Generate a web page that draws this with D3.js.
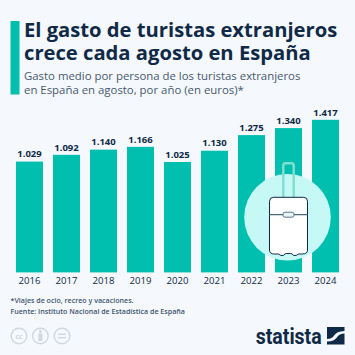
<!DOCTYPE html>
<html lang="es">
<head>
<meta charset="UTF-8">
<title>Gasto de turistas extranjeros</title>
<script src="https://cdn.jsdelivr.net/npm/d3@7"></script>
<style>
  html, body { margin: 0; padding: 0; background: #f5f8fc; }
  svg { display: block; font-family: "Open Sans", sans-serif; }
</style>
</head>
<body>
<script>
// datos
var years = ["2016", "2017", "2018", "2019", "2020", "2021", "2022", "2023", "2024"];
var values = [1029, 1092, 1140, 1166, 1025, 1130, 1275, 1340, 1417];
var valueLabels = ["1.029", "1.092", "1.140", "1.166", "1.025", "1.130", "1.275", "1.340", "1.417"];
var titleLines = ["El gasto de turistas extranjeros", "crece cada agosto en España"];
var subtitleLines = ["Gasto medio por persona de los turistas extranjeros", "en España en agosto, por año (en euros)*"];
var footLines = ["*Viajes de ocio, recreo y vacaciones.", "Fuente: Instituto Nacional de Estadística de España"];

var width = 355, height = 355;
var navy = "#0f2a47", teal = "#00bfae", slate = "#47596f";

var svg = d3.select("body").append("svg")
    .attr("width", width)
    .attr("height", height);

svg.append("rect").attr("width", width).attr("height", height).attr("fill", "#f5f8fc");

// cabecera
svg.append("rect").attr("x", 10.5).attr("y", 21).attr("width", 9).attr("height", 73.5).attr("fill", teal);

svg.selectAll(".title").data(titleLines).enter().append("text")
    .attr("x", 24).attr("y", function (d, i) { return 36.8 + i * 22.7; })
    .attr("font-size", 20.2).attr("font-weight", 700).attr("fill", navy)
    .text(function (d) { return d; });

svg.selectAll(".subtitle").data(subtitleLines).enter().append("text")
    .attr("x", 24).attr("y", function (d, i) { return 80.3 + i * 14; })
    .attr("font-size", 11.4).attr("fill", slate)
    .text(function (d) { return d; });

// escalas
var x = d3.scaleBand().domain(years).range([11, 344]).paddingInner(0.27).paddingOuter(0.135);
var y = d3.scaleLinear().domain([0, 1417]).range([272.4, 119.8]);

svg.selectAll(".bar").data(values).enter().append("rect")
    .attr("x", function (d, i) { return x(years[i]); })
    .attr("y", function (d) { return y(d); })
    .attr("width", x.bandwidth())
    .attr("height", function (d) { return y(0) - y(d); })
    .attr("fill", teal);

svg.selectAll(".label").data(values).enter().append("text")
    .attr("x", function (d, i) { return x(years[i]) + x.bandwidth() / 2; })
    .attr("y", function (d) { return y(d) - 4.3; })
    .attr("text-anchor", "middle")
    .attr("font-size", 9.5).attr("font-weight", 700).attr("fill", navy)
    .text(function (d, i) { return valueLabels[i]; });

// eje x
var axisX = d3.axisBottom(x).tickSize(0).tickPadding(0);
var gx = svg.append("g").attr("transform", "translate(0,281)").call(axisX);
gx.select(".domain").remove();
gx.selectAll("text")
    .attr("y", 0).attr("dy", "0.32em")
    .attr("font-family", "\"Open Sans\", sans-serif")
    .attr("font-size", 9.6).attr("fill", navy);

// icono maleta
var icon = svg.append("g").attr("transform", "translate(288.5,217)");
icon.append("circle").attr("cx", -1).attr("cy", 0.3).attr("r", 43.3).attr("fill", "#c6f9f5");
icon.append("path")
    .attr("d", "M-5.2,-20V-51.500Q-5.2,-53.8 -3,-53.8H3Q5.200,-53.8 5.200,-51.500V-20")
    .attr("fill", "none").attr("stroke", "#7fe0d3").attr("stroke-width", 2.5);
icon.append("path")
    .attr("d", "M-15,-19.700H15Q19,-19.700 19,-15.700V33Q19,37 14,37H10Q8,39 5,38.500Q4,36.500 2,36.500H-2Q-4,36.500 -5,38.500Q-8,39 -10,37H-14Q-19,37 -19,33V-15.700Q-19,-19.700 -15,-19.700Z")
    .attr("fill", "#ffffff").attr("stroke", navy).attr("stroke-width", 1);
icon.append("path").attr("d", "M-19,-2.300H19").attr("stroke", "#47697f").attr("stroke-width", 1.2);
icon.append("rect").attr("x", -5.5).attr("y", -4.8).attr("width", 11).attr("height", 5).attr("rx", 2)
    .attr("fill", "#e8f4f4").attr("stroke", "#47697f").attr("stroke-width", 0.9);

// pie
svg.selectAll(".foot").data(footLines).enter().append("text")
    .attr("x", 10.5).attr("y", function (d, i) { return 302.6 + i * 11.2; })
    .attr("font-size", 7.1).attr("font-weight", 600).attr("fill", "#3f5470")
    .text(function (d) { return d; });

// licencia cc
var cc = svg.append("g").attr("fill", "none").attr("stroke", "#cfd8df").attr("stroke-width", 1.4);
[19, 40.4, 62].forEach(function (cx) {
    cc.append("circle").attr("cx", cx).attr("cy", 336).attr("r", 7.8);
});
svg.append("text").attr("x", 19).attr("y", 338.5).attr("text-anchor", "middle")
    .attr("font-size", 7).attr("font-weight", 700).attr("fill", "#cfd8df").text("cc");
svg.append("circle").attr("cx", 40.4).attr("cy", 331.5).attr("r", 1.4).attr("fill", "#cfd8df");
svg.append("rect").attr("x", 38.4).attr("y", 333.5).attr("width", 4).attr("height", 7.5).attr("fill", "#cfd8df");
svg.append("rect").attr("x", 58).attr("y", 333.5).attr("width", 8).attr("height", 1.4).attr("fill", "#cfd8df");
svg.append("rect").attr("x", 58).attr("y", 337).attr("width", 8).attr("height", 1.4).attr("fill", "#cfd8df");

// logo statista
svg.append("text").attr("x", 255.7).attr("y", 343.5)
    .attr("font-family", "\"Liberation Sans Narrow\", \"Roboto\", sans-serif")
    .attr("font-size", 22.5).attr("font-weight", 700).attr("fill", navy)
    .attr("textLength", 66).attr("lengthAdjust", "spacingAndGlyphs")
    .text("statista");
svg.append("path")
    .attr("d", "M327,327H344.500V331Q336,331 333,337Q331,339 327,339Z M344.500,333.500V344.500H327V341.500Q335,341.500 338,336Q340,333.500 344.500,333.500Z")
    .attr("fill", navy);
</script>
</body>
</html>
